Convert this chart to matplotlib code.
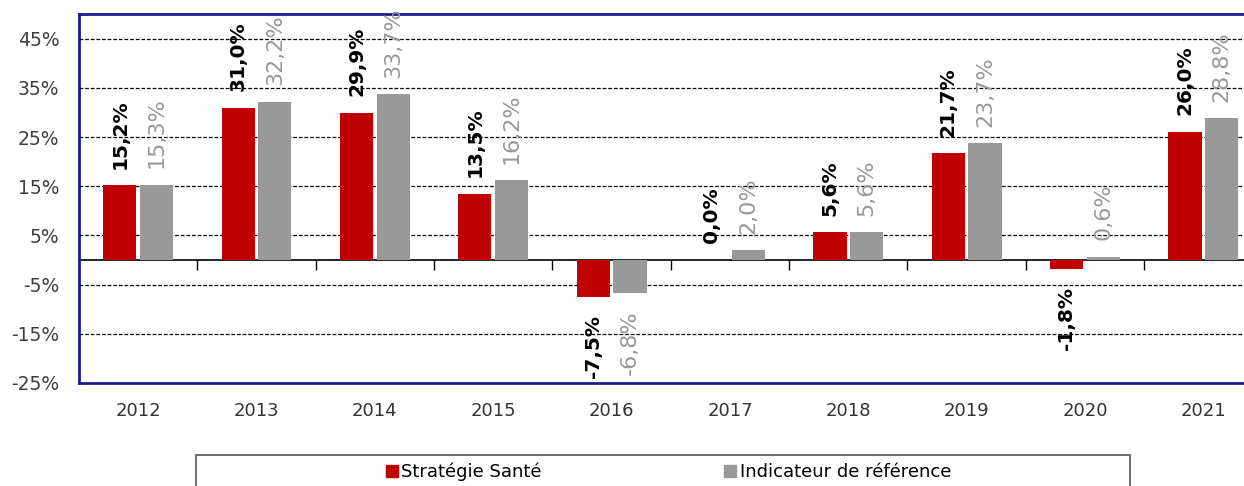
import matplotlib.pyplot as plt
import numpy as np
from matplotlib.patches import Rectangle

# Data
years = ['2012', '2013', '2014', '2015', '2016', '2017', '2018', '2019', '2020', '2021']
strategie = [15.2, 31.0, 29.9, 13.5, -7.5, 0.0, 5.6, 21.7, -1.8, 26.0]
indicateur = [15.3, 32.2, 33.7, 16.2, -6.8, 2.0, 5.6, 23.7, 0.6, 28.8]
series_names = ['Stratégie Santé', 'Indicateur de référence']
yticks = [45, 35, 25, 15, 5, -5, -15, -25]

red = '#C00000'
grey = '#999999'
navy = '#1A1A8C'
plt.rcParams['font.family'] = 'DejaVu Sans'

fig = plt.figure(figsize=(12.44, 4.86), dpi=100)
ax = fig.add_axes([0.0635, 0.212, 0.94, 0.759])

x = np.arange(len(years))
w = 0.28
gap = 0.015
ax.bar(x - w / 2 - gap, strategie, w, color=red, zorder=3)
ax.bar(x + w / 2 + gap, indicateur, w, color=grey, zorder=3)

ymin, ymax = -25, 50
ax.set_ylim(ymin, ymax)
ax.set_xlim(-0.5, 9.38)

# value labels
for xi, v in zip(x, strategie):
    off = 12 if v >= 0 else -12
    ax.annotate(f'{v:.1f}%'.replace('.', ','), (xi - w / 2 - gap, v), xytext=(0, off),
                textcoords='offset points', rotation=90, ha='center',
                va='bottom' if v >= 0 else 'top', fontsize=14.5, fontweight='bold',
                color='black', zorder=4)
for xi, v in zip(x, indicateur):
    off = 12 if v >= 0 else -12
    ax.annotate(f'{v:.1f}%'.replace('.', ','), (xi + w / 2 + gap, v), xytext=(0, off),
                textcoords='offset points', rotation=90, ha='center',
                va='bottom' if v >= 0 else 'top', fontsize=16,
                color=grey, zorder=4)

# grid
ax.set_yticks(yticks)
ax.set_yticklabels([f'{t}%' for t in yticks], fontsize=13.5, color='#404040')
ax.tick_params(axis='y', length=0, pad=14)
for t in yticks[:-1]:
    ax.axhline(t, color='black', lw=0.9, ls=(0, (3, 1.5)), zorder=1)

# category labels under the bottom spine
ax.set_xticks(x)
ax.set_xticklabels(years, color='#333333', fontsize=13)
ax.tick_params(axis='x', length=0, pad=14)

# zero axis with boundary ticks
zero = (0 - ymin) / (ymax - ymin)
sec = ax.secondary_xaxis(zero)
sec.set_xticks(x[:-1] + 0.5)
sec.set_xticklabels([])
sec.tick_params(axis='x', length=7, width=1, color='black', direction='out')
sec.spines['bottom'].set_color('black')
sec.spines['bottom'].set_linewidth(1.2)

for s in ['left', 'top', 'bottom']:
    ax.spines[s].set_color(navy)
    ax.spines[s].set_linewidth(2)
ax.spines['right'].set_visible(False)

# legend box
fig.patches.append(Rectangle((0.1576, -0.05), 0.751, 0.1138, transform=fig.transFigure,
                             fill=False, edgecolor='#555555', lw=1.2, figure=fig))
handles = [Rectangle((0, 0), 1, 1, color=red), Rectangle((0, 0), 1, 1, color=grey)]
fig.legend(handles, series_names, loc='center', bbox_to_anchor=(0.5374, 0.029), ncol=2,
           frameon=False, handlelength=0.67, handleheight=0.7, handletextpad=0.2,
           columnspacing=10.1, prop={'size': 13})

fig.savefig('out.png', dpi=100)
